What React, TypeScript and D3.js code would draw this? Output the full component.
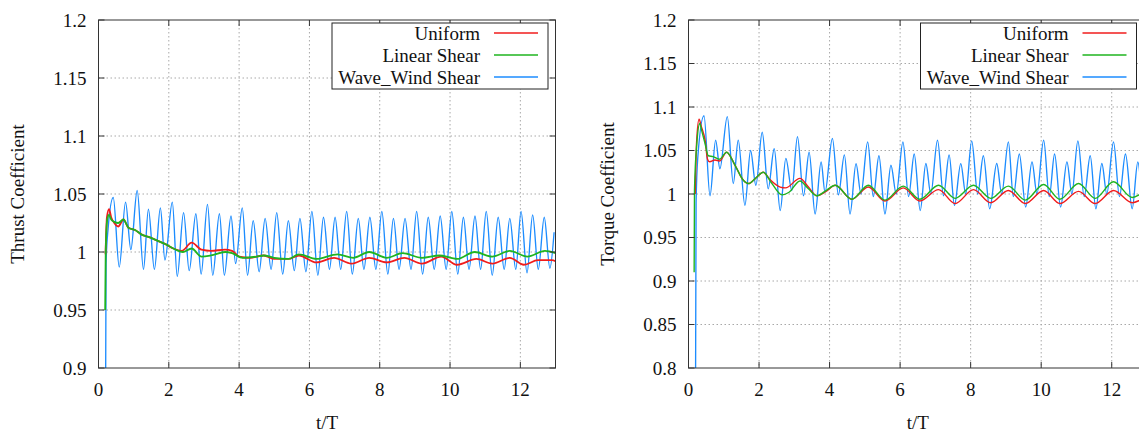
import React from 'react';
import * as d3 from 'd3';

type Pt = [number, number];

// ---------- data (t/T, coefficient) ----------
const xTicks = [0, 2, 4, 6, 8, 10, 12];
const thrustTicks = [0.9, 0.95, 1, 1.05, 1.1, 1.15, 1.2];
const torqueTicks = [0.8, 0.85, 0.9, 0.95, 1, 1.05, 1.1, 1.15, 1.2];
const legendNames = ['Uniform', 'Linear Shear', 'Wave_Wind Shear'];

const thrustUniform: Pt[] = [
  [0.2, 0.998], [0.24, 1.03], [0.3, 1.037], [0.36, 1.03], [0.45, 1.025], [0.56, 1.022], [0.71, 1.028],
  [0.85, 1.021], [1.04, 1.019], [1.23, 1.015], [1.42, 1.013], [1.66, 1.01], [1.89, 1.007], [2.13, 1.003],
  [2.37, 1.001], [2.65, 1.008], [2.93, 1.002], [3.2, 1.001], [3.6, 1.002], [3.8, 1.001], [4.0, 0.996],
  [4.3, 0.995], [4.7, 0.997], [5.0, 0.994], [5.4, 0.994], [5.7, 0.997], [6.2, 0.991], [6.7, 0.995],
  [7.2, 0.99], [7.7, 0.995], [8.2, 0.991], [8.7, 0.995], [9.2, 0.99], [9.75, 0.996], [10.2, 0.989],
  [10.75, 0.994], [11.2, 0.99], [11.7, 0.995], [12.1, 0.989], [12.5, 0.993], [12.9, 0.993], [13.0, 0.992],
];

const thrustLinear: Pt[] = [
  [0.19, 0.95], [0.205, 1.0], [0.25, 1.028], [0.3, 1.032], [0.36, 1.028], [0.45, 1.026], [0.56, 1.025],
  [0.71, 1.028], [0.85, 1.021], [1.04, 1.019], [1.23, 1.015], [1.42, 1.013], [1.66, 1.01], [1.89, 1.007],
  [2.13, 1.003], [2.4, 1.0], [2.65, 1.003], [2.93, 0.996], [3.2, 0.997], [3.6, 1.0], [3.8, 0.999],
  [4.1, 0.995], [4.5, 0.996], [4.7, 0.997], [5.0, 0.995], [5.4, 0.994], [5.7, 0.998], [6.2, 0.994],
  [6.8, 0.998], [7.25, 0.995], [7.7, 1.0], [8.2, 0.995], [8.65, 0.999], [9.2, 0.995], [9.7, 0.997],
  [10.2, 0.994], [10.7, 1.0], [11.2, 0.996], [11.7, 1.001], [12.2, 0.996], [12.7, 1.001], [13.0, 0.999],
];

const thrustWave: Pt[] = [
  [0.2, 0.86], [0.215, 0.99], [0.27, 1.019], [0.42, 1.047], [0.59, 0.987], [0.77, 1.043], [0.92, 1.002],
  [1.1, 1.053], [1.28, 0.985], [1.42, 1.037], [1.59, 0.985], [1.76, 1.038], [1.89, 0.993], [2.1, 1.043],
  [2.24, 0.979], [2.42, 1.034], [2.58, 0.984], [2.77, 1.033], [2.92, 0.981], [3.1, 1.041], [3.25, 0.98],
  [3.44, 1.033], [3.58, 0.98], [3.77, 1.031], [3.9, 0.99], [4.09, 1.038], [4.24, 0.98], [4.4, 1.027],
  [4.57, 0.983], [4.74, 1.029], [4.91, 0.985], [5.07, 1.034], [5.24, 0.981], [5.4, 1.027], [5.57, 0.984],
  [5.73, 1.029], [5.9, 0.983], [6.07, 1.035], [6.24, 0.98], [6.4, 1.03], [6.57, 0.985], [6.73, 1.03],
  [6.89, 0.985], [7.06, 1.035], [7.22, 0.981], [7.39, 1.029], [7.55, 0.985], [7.72, 1.03], [7.89, 0.985],
  [8.06, 1.035], [8.23, 0.981], [8.39, 1.029], [8.55, 0.985], [8.72, 1.029], [8.89, 0.985], [9.05, 1.035],
  [9.22, 0.981], [9.38, 1.03], [9.55, 0.985], [9.72, 1.031], [9.89, 0.985], [10.05, 1.035], [10.22, 0.981],
  [10.38, 1.03], [10.54, 0.985], [10.71, 1.031], [10.87, 0.985], [11.03, 1.035], [11.2, 0.98], [11.37, 1.03],
  [11.54, 0.985], [11.7, 1.029], [11.87, 0.985], [12.02, 1.035], [12.19, 0.982], [12.35, 1.032], [12.51, 0.985],
  [12.68, 1.03], [12.84, 0.986], [12.96, 1.017],
];

const torqueUniform: Pt[] = [
  [0.19, 1.0], [0.23, 1.06], [0.3, 1.086], [0.36, 1.078], [0.47, 1.062], [0.54, 1.04], [0.6, 1.037],
  [0.75, 1.039], [0.88, 1.038], [1.08, 1.048], [1.32, 1.033], [1.55, 1.016], [1.7, 1.012], [1.9, 1.018],
  [2.12, 1.025], [2.3, 1.017], [2.6, 1.008], [2.75, 1.007], [3.16, 1.018], [3.4, 1.008], [3.64, 0.998],
  [3.9, 1.003], [4.16, 1.01], [4.63, 0.994], [5.1, 1.008], [5.57, 0.992], [6.09, 1.007], [6.56, 0.992],
  [7.09, 1.005], [7.56, 0.989], [8.08, 1.005], [8.57, 0.99], [9.07, 1.004], [9.55, 0.989], [10.07, 1.004],
  [10.53, 0.989], [11.06, 1.003], [11.53, 0.989], [12.05, 1.004], [12.58, 0.99], [13.0, 0.998],
];

const torqueLinear: Pt[] = [
  [0.16, 0.91], [0.17, 1.005], [0.24, 1.06], [0.32, 1.081], [0.38, 1.072], [0.47, 1.058], [0.56, 1.044],
  [0.7, 1.043], [0.88, 1.04], [1.08, 1.048], [1.32, 1.033], [1.55, 1.016], [1.7, 1.012], [1.9, 1.018],
  [2.12, 1.025], [2.35, 1.013], [2.65, 0.999], [2.85, 1.002], [3.16, 1.015], [3.4, 1.006], [3.64, 0.998],
  [3.9, 1.004], [4.16, 1.01], [4.63, 0.994], [5.1, 1.01], [5.57, 0.993], [6.09, 1.009], [6.56, 0.994],
  [7.09, 1.01], [7.56, 0.995], [8.08, 1.01], [8.57, 0.995], [9.07, 1.009], [9.55, 0.993], [10.07, 1.011],
  [10.53, 0.994], [11.06, 1.012], [11.53, 0.995], [12.05, 1.014], [12.58, 0.996], [13.0, 1.006],
];

const torqueWave: Pt[] = [
  [0.2, 0.78], [0.215, 0.99], [0.26, 1.04], [0.44, 1.09], [0.61, 0.998], [0.77, 1.062], [0.89, 1.029],
  [1.1, 1.089], [1.27, 1.012], [1.41, 1.062], [1.6, 0.987], [1.76, 1.05], [1.91, 1.01], [2.09, 1.071],
  [2.26, 1.006], [2.43, 1.052], [2.6, 0.981], [2.76, 1.041], [2.93, 1.004], [3.09, 1.066], [3.26, 0.998],
  [3.42, 1.048], [3.59, 0.977], [3.76, 1.037], [3.87, 1.002], [4.08, 1.064], [4.25, 0.999], [4.42, 1.045],
  [4.58, 0.977], [4.75, 1.035], [4.89, 1.0], [5.08, 1.06], [5.24, 0.997], [5.4, 1.044], [5.57, 0.977],
  [5.74, 1.033], [5.89, 1.0], [6.08, 1.06], [6.24, 0.997], [6.4, 1.046], [6.57, 0.981], [6.73, 1.035],
  [6.87, 1.0], [7.06, 1.062], [7.23, 0.998], [7.39, 1.045], [7.54, 0.987], [7.72, 1.035], [7.86, 1.0],
  [8.03, 1.061], [8.2, 1.0], [8.36, 1.044], [8.54, 0.983], [8.74, 1.035], [8.88, 1.0], [9.07, 1.06],
  [9.21, 0.997], [9.38, 1.046], [9.56, 0.985], [9.74, 1.037], [9.88, 1.0], [10.07, 1.062], [10.23, 0.997],
  [10.38, 1.046], [10.55, 0.985], [10.73, 1.037], [10.87, 1.0], [11.04, 1.061], [11.22, 0.997], [11.39, 1.044],
  [11.55, 0.983], [11.72, 1.035], [11.86, 1.0], [12.05, 1.06], [12.22, 0.997], [12.39, 1.046], [12.58, 0.983],
  [12.74, 1.037], [12.88, 1.0], [13.0, 1.04],
];

// ---------- styles ----------
const COLORS = ['#f01c1c', '#1fb41f', '#1c8cff'];
const FONT = '"Liberation Serif", "Times New Roman", serif';
const FS = 19;

interface PanelProps {
  id: string;
  left: number;
  right: number;
  top: number;
  bottom: number;
  yDomain: [number, number];
  yTicks: number[];
  yLabel: string;
  yLabelX: number;
  legendInset: number;
  series: Pt[][];
  lineWidths: number[];
}

function Panel(p: PanelProps) {
  const x = d3.scaleLinear().domain([0, 13]).range([p.left, p.right]);
  const y = d3.scaleLinear().domain(p.yDomain).range([p.bottom, p.top]);
  const line = d3
    .line<Pt>()
    .x((d) => x(d[0]))
    .y((d) => y(d[1]))
    .curve(d3.curveMonotoneX);
  const fmt = (v: number) => String(+v.toFixed(2));
  const tickLen = 6;
  const grid = '#a8a8a8';
  // legend geometry
  const lgRight = p.right - p.legendInset;
  const lgLeft = lgRight - 216;
  const lgTop = p.top + 3;
  const lgBottom = p.top + 69;
  const rowY = [p.top + 13, p.top + 35, p.top + 57];
  const drawOrder = [2, 0, 1];
  return (
    <g>
      <defs>
        <clipPath id={p.id}>
          <rect x={p.left} y={p.top} width={p.right - p.left} height={p.bottom - p.top} />
        </clipPath>
      </defs>
      {/* grid */}
      {xTicks.filter((t) => t > 0).map((t) => (
        <line key={'gx' + t} x1={x(t)} x2={x(t)} y1={p.top} y2={p.bottom}
          stroke={grid} strokeWidth={1} strokeDasharray="1.5,2.5" />
      ))}
      {p.yTicks.filter((v) => v > p.yDomain[0] && v < p.yDomain[1]).map((v) => (
        <line key={'gy' + v} x1={p.left} x2={p.right} y1={y(v)} y2={y(v)}
          stroke={grid} strokeWidth={1} strokeDasharray="1.5,2.5" />
      ))}
      {/* data */}
      <g clipPath={`url(#${p.id})`}>
        {drawOrder.map((i) => (
          <path key={'s' + i} d={line(p.series[i]) || ''} fill="none" stroke={COLORS[i]}
            strokeWidth={p.lineWidths[i]} strokeLinejoin="round" />
        ))}
      </g>
      {/* border */}
      <rect x={p.left} y={p.top} width={p.right - p.left} height={p.bottom - p.top}
        fill="none" stroke="#333" strokeWidth={1} />
      {/* ticks */}
      {p.yTicks.map((v) => (
        <g key={'ty' + v}>
          <line x1={p.left} x2={p.left + tickLen} y1={y(v)} y2={y(v)} stroke="#333" />
          <line x1={p.right} x2={p.right - tickLen} y1={y(v)} y2={y(v)} stroke="#333" />
          <text x={p.left - 12} y={y(v)} textAnchor="end" dominantBaseline="central"
            fontFamily={FONT} fontSize={FS} fill="#111">{fmt(v)}</text>
        </g>
      ))}
      {xTicks.map((t) => (
        <g key={'tx' + t}>
          <line x1={x(t)} x2={x(t)} y1={p.bottom} y2={p.bottom - tickLen} stroke="#333" />
          <line x1={x(t)} x2={x(t)} y1={p.top} y2={p.top + tickLen} stroke="#333" />
          <text x={x(t)} y={p.bottom + 21} textAnchor="middle" dominantBaseline="central"
            fontFamily={FONT} fontSize={FS} fill="#111">{t}</text>
        </g>
      ))}
      {/* axis titles */}
      <text x={(p.left + p.right) / 2} y={p.bottom + 54} textAnchor="middle" dominantBaseline="central"
        fontFamily={FONT} fontSize={FS} fill="#111">t/T</text>
      <text transform={`translate(${p.yLabelX},${(p.top + p.bottom) / 2}) rotate(-90)`}
        textAnchor="middle" dominantBaseline="central" fontFamily={FONT} fontSize={FS} fill="#111">
        {p.yLabel}
      </text>
      {/* legend */}
      <rect x={lgLeft} y={lgTop} width={lgRight - lgLeft} height={lgBottom - lgTop}
        fill="#fff" stroke="#222" strokeWidth={1} />
      {legendNames.map((name, i) => (
        <g key={'lg' + i}>
          <text x={lgLeft + 148} y={rowY[i]} textAnchor="end" dominantBaseline="central"
            fontFamily={FONT} fontSize={FS} fill="#111">{name}</text>
          <line x1={lgRight - 54} x2={lgRight - 10} y1={rowY[i]} y2={rowY[i]}
            stroke={COLORS[i]} strokeWidth={1.3} />
        </g>
      ))}
    </g>
  );
}

export default function App() {
  return (
    <svg width={1139} height={432} viewBox="0 0 1139 432"
      style={{ position: 'absolute', left: 0, top: 0, background: '#fff' }}>
      <rect x={0} y={0} width={1139} height={432} fill="#fff" />
      <Panel id="clipL" left={98.5} right={555.5} top={20} bottom={368}
        yDomain={[0.9, 1.2]} yTicks={thrustTicks} yLabel="Thrust Coefficient" yLabelX={17}
        legendInset={7.5} series={[thrustUniform, thrustLinear, thrustWave]} lineWidths={[1.8, 1.8, 1.35]} />
      <Panel id="clipR" left={688.5} right={1147} top={20} bottom={368}
        yDomain={[0.8, 1.2]} yTicks={torqueTicks} yLabel="Torque Coefficient" yLabelX={607}
        legendInset={10.5} series={[torqueUniform, torqueLinear, torqueWave]} lineWidths={[1.4, 1.4, 1.35]} />
    </svg>
  );
}
